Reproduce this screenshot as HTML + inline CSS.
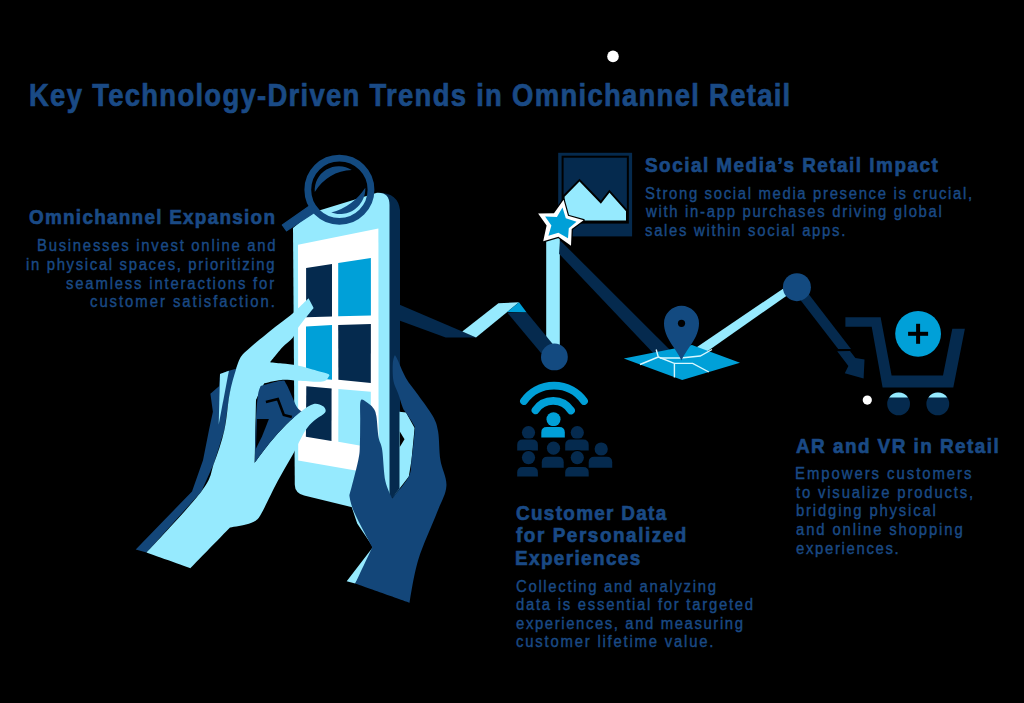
<!DOCTYPE html>
<html><head><meta charset="utf-8">
<style>
html,body{margin:0;padding:0;background:#000;}
body{width:1024px;height:703px;position:relative;overflow:hidden;font-family:"Liberation Sans",sans-serif;color:#1a4a85;}
.t{position:absolute;white-space:pre;margin:0;transform-origin:0 0;}
.hb{font-weight:bold;font-size:21px;line-height:1;-webkit-text-stroke:0.7px #1a4a85;}
.bd{font-size:16px;line-height:1;-webkit-text-stroke:0.4px #1a4a85;}
svg{position:absolute;left:0;top:0;}
</style></head>
<body>
<svg width="1024" height="703" viewBox="0 0 1024 703">
<defs></defs>
<!-- white dot top -->
<circle cx="613" cy="56.4" r="5.8" fill="#fff"/>
<!-- network: navy ribbon from phone -->
<polygon fill="#052a4e" points="398,304 462.3,331.5 476,337.4 445.7,337.4 398,320"/>
<!-- cyan ribbon -->
<polygon fill="#96eafe" points="462.3,331.5 498.4,303.2 519,302.2 507.2,312 476,337.4"/>
<polygon fill="#00a0d8" points="507.2,312 519,302.2 526.7,312.6"/>
<!-- cyan vertical bar star->circle1 -->
<rect x="546.2" y="235" width="13.6" height="112" fill="#96eafe"/>
<!-- navy ribbon to circle1 -->
<polygon fill="#052a4e" points="507.2,312.6 526.7,312.6 556,348 541,353"/>
<!-- navy diagonal star->map -->
<polygon fill="#052a4e" points="560.2,240.4 672,352 656,356 559.1,253.8"/>
<!-- cyan map->circle2 -->
<polygon fill="#96eafe" points="690,351.8 797,279.2 797,288.5 690,363.4"/>
<!-- navy circle2->cart arrow -->
<polygon fill="#052a4e" points="800.9,284.1 851,349 838.2,349 792.9,290.3"/>
<polygon fill="#052a4e" points="837.2,351.3 850,350.9 855.4,358 864.5,359.6 863.6,378.4 844.8,373.2 848.4,366"/>
<!-- circles -->
<circle cx="554.4" cy="356.9" r="13.4" fill="#134a80"/>
<circle cx="796.9" cy="287.2" r="14" fill="#134a80"/>
<!-- picture frame -->
<rect x="558.2" y="152.8" width="73.9" height="83.6" fill="#052a4e"/>
<rect x="562.6" y="156.7" width="65.25" height="65.9" fill="none" stroke="#000" stroke-width="2"/>
<polygon fill="#96eafe" stroke="#000" stroke-width="2" points="563.6,196.3 579.5,180.1 600.8,202.3 609.4,191.2 627,210.8 627,221.6 563.6,221.6"/>
<!-- star -->
<polygon fill="#fff" stroke="#000" stroke-width="2.4" paint-order="stroke" stroke-linejoin="round" points="563.6,199.8 568,215.8 583.6,220.2 571.7,229.1 571,245.7 558.4,236.8 543.2,241.3 546.6,225.4 538.1,213.5 554,213.2"/>
<polygon fill="#00a0d8" points="562.5,207.6 565.8,218.3 576.5,221.7 568.8,228.3 568,238.3 558.4,232.8 548.4,235.7 551.4,225.4 545.1,216.5 556.9,216.9"/>
<!-- map -->
<polygon fill="#00a0d8" points="623.8,358.4 692,345 740,362.8 682.2,380"/>
<polyline fill="none" stroke="#d8f8ff" stroke-width="1.4" points="640,364.5 658.3,357 656.2,349.5"/>
<polyline fill="none" stroke="#d8f8ff" stroke-width="1.4" points="658.3,357 674.4,363.4 674.4,377.4"/>
<polyline fill="none" stroke="#d8f8ff" stroke-width="1.4" points="674.4,363.4 692.7,363.4 708.8,372"/>
<polyline fill="none" stroke="#d8f8ff" stroke-width="1.4" points="660,358 680.9,358 700.2,356 712,349.5"/>
<!-- pin -->
<path fill="#134a80" d="M681.5,360.5 C676,348 664,338 664,323.3 A17.5,17.5 0 1 1 699,323.3 C699,338 687,348 681.5,360.5 Z"/>
<circle cx="681.5" cy="323.3" r="3.6" fill="#000"/>
<!-- cart -->
<polygon fill="#052a4e" points="845.4,317.3 880.6,317.3 891.6,375.6 943,375.6 952.3,328.8 964.9,328.8 953.3,387.6 882.6,387.6 871.7,326.8 845.4,326.8"/>
<circle cx="918.1" cy="333.8" r="22.9" fill="#00a0d8"/>
<rect x="913.9" y="323.8" width="4" height="20" fill="#000" transform="translate(2.2,0)"/>
<rect x="908.1" y="331.8" width="20" height="4" fill="#000"/>
<circle cx="898.6" cy="403.9" r="11.4" fill="#052a4e"/>
<circle cx="937.8" cy="403.9" r="11.4" fill="#052a4e"/>
<circle cx="867.3" cy="400.1" r="4.6" fill="#fff"/>
<path fill="#96eafe" d="M889.17,397.5 A11.4,11.4 0 0 1 908.03,397.5 Z"/>
<path fill="#96eafe" d="M928.37,397.5 A11.4,11.4 0 0 1 947.23,397.5 Z"/>
<!-- wifi -->
<path fill="none" stroke="#00a0d8" stroke-width="7.8" stroke-linecap="round" d="M524,401 A37,37 0 0 1 584,401"/>
<path fill="none" stroke="#00a0d8" stroke-width="7.8" stroke-linecap="round" d="M535.5,410.2 A21.4,21.4 0 0 1 571,410.5"/>
<!-- people -->
<g fill="#00a0d8" stroke="#000" stroke-width="2" paint-order="stroke">
<circle cx="553.5" cy="419.3" r="7"/>
<path d="M541.3,437.6 V432.6 Q541.3,427.1 546.8,427.1 H559.3 Q564.8,427.1 564.8,432.6 V437.6 Z"/>
</g>
<g fill="#052a4e" stroke="#000" stroke-width="2" paint-order="stroke">
<circle cx="528.5" cy="432.6" r="6.6"/>
<path d="M517.2,450.6 V445.1 Q517.2,439.6 522.7,439.6 H532.4 Q537.9,439.6 537.9,445.1 V450.6 Z"/>
<circle cx="577.3" cy="432.6" r="6.6"/>
<path d="M565.2,450.6 V445.1 Q565.2,439.6 570.7,439.6 H583.2 Q588.7,439.6 588.7,445.1 V450.6 Z"/>
<circle cx="553.5" cy="448.2" r="6.6"/>
<path d="M541.8,467.8 V462.3 Q541.8,456.8 547.3,456.8 H558.2 Q563.7,456.8 563.7,462.3 V467.8 Z"/>
<circle cx="601.2" cy="449" r="6.6"/>
<path d="M588.7,467.8 V462.3 Q588.7,456.8 594.2,456.8 H606.7 Q612.2,456.8 612.2,462.3 V467.8 Z"/>
<circle cx="528.5" cy="457.6" r="6.6"/>
<path d="M517.2,476.5 V472.5 Q517.2,467.0 522.7,467.0 H532.4 Q537.9,467.0 537.9,472.5 V476.5 Z"/>
<circle cx="577.3" cy="457.6" r="6.6"/>
<path d="M565.2,476.5 V472.5 Q565.2,467.0 570.7,467.0 H583.2 Q588.7,467.0 588.7,472.5 V476.5 Z"/>
</g>
<!-- phone navy side -->
<path fill="#052a4e" d="M379,192.7 Q398,193 400,210 L400,492 L392.5,498 L389,496 L389,205 Z"/>
<!-- phone cyan body -->
<path fill="#96eafe" d="M293,228 L311,213 L377,192.7 Q389.5,192 389.5,205 L389.5,516 L350.2,506.7 L304.1,495.6 Q295,493 294.8,485 Z"/>
<!-- white screen -->
<polygon fill="#fff" points="298,244.7 378.4,228.4 378.6,474.6 298.2,460.6"/>
<!-- tiles -->
<polygon fill="#052a4e" points="306.1,268 332,264.1 332,316.5 306.1,317.3"/>
<polygon fill="#00a0d8" points="338.2,263 370.9,258.1 370.9,315.4 338.2,316.2"/>
<polygon fill="#00a0d8" points="306,326.5 332,325.1 332,379.8 306,377.3"/>
<polygon fill="#052a4e" points="338.2,325.1 370.9,324 370.8,382.9 338.4,379.8"/>
<polygon fill="#052a4e" points="306.3,386.2 331.6,388.4 331.5,441 305.9,436.7"/>
<polygon fill="#96eafe" points="338.4,389 370.8,391.8 370.8,447.5 338.3,441.8"/>
<!-- magnifier -->
<circle cx="339.4" cy="189.8" r="31.6" fill="none" stroke="#134a80" stroke-width="6.8"/>
<polygon fill="#134a80" stroke="#134a80" stroke-width="1.2" stroke-linejoin="round" points="282.3,225 286.6,230.8 315.5,211.8 310.9,205"/>
<path fill="#134a80" d="M314.8,192 A24,24 0 0 1 351.8,170 A44,44 0 0 0 314.8,192 Z"/>
<path fill="#134a80" d="M365.3,187.7 A25.5,25.5 0 0 1 331.2,212.6 A60,60 0 0 0 365.3,187.7 Z"/>
<!-- left hand shadow -->
<polygon fill="#134679" points="135.7,549.4 192,491.5 203,460.2 209,430 212.9,411.7 210.4,393.7 219.3,386 220,374 228.9,370.7 236,368.8 241,358 229.6,393.8 224.4,430 214,463.3 201.4,491.5 146.6,552.5"/>
<polygon fill="#96eafe" points="220,374 228.9,370.7 218.7,424.5"/>
<!-- left hand cyan -->
<path fill="#96eafe" d="M146.6,552.5 C146.6,552.5 190.2,506.4 201.4,491.5 C212.6,476.6 210.2,473.6 214.0,463.3 C217.8,453.1 221.8,441.6 224.4,430.0 C227.0,418.4 227.7,403.9 229.6,393.8 C231.5,383.7 234.1,375.6 236.0,369.4 C237.9,363.2 238.8,360.2 241.1,356.6 C243.4,353.0 245.9,351.3 250.0,347.7 C254.1,344.1 260.9,338.6 265.6,334.8 C270.3,331.0 273.7,328.3 278.4,324.6 C283.1,320.9 288.8,316.8 293.8,312.4 C298.8,308.0 308.5,298.3 308.5,298.3 C308.5,298.3 313.6,307.9 313.6,307.9 C313.6,307.9 301.1,323.4 297.6,328.4 C294.1,333.4 295.1,334.8 292.5,338.0 C289.9,341.2 285.9,343.6 282.2,347.6 C278.5,351.7 270.1,362.3 270.1,362.3 C270.1,362.3 277.6,363.1 282.2,363.6 C286.8,364.1 291.8,364.3 297.6,365.5 C303.4,366.7 311.7,369.3 316.8,370.7 C321.9,372.1 326.2,372.9 328.2,374.0 C330.1,375.1 329.5,375.7 328.5,377.0 C327.5,378.3 327.2,381.0 322.2,381.6 C317.2,382.2 305.1,381.0 298.3,380.7 C291.5,380.4 286.9,379.5 281.2,379.9 C275.5,380.3 264.2,383.3 264.2,383.3 C264.2,383.3 256.0,400.0 256.0,400.0 C256.0,400.0 254.9,462.7 254.9,462.7 C254.9,462.7 264.7,449.1 269.8,442.8 C274.9,436.5 280.5,430.2 285.8,424.9 C291.1,419.6 297.1,414.4 301.7,410.9 C306.3,407.4 310.2,404.8 313.7,404.0 C317.2,403.2 320.6,405.0 322.6,406.0 C324.6,407.0 325.4,408.7 325.6,410.0 C325.8,411.3 325.6,412.2 323.6,414.0 C321.6,415.8 316.7,418.2 313.7,420.9 C310.7,423.5 308.2,426.2 305.7,429.9 C303.2,433.5 300.7,439.0 298.7,442.8 C296.7,446.6 297.6,445.8 293.8,452.8 C290.0,459.8 281.1,474.7 275.8,484.7 C270.5,494.7 265.2,506.6 261.9,512.6 C258.6,518.6 258.6,518.5 255.9,520.5 C253.2,522.5 250.2,523.3 245.9,524.5 C241.6,525.7 230.0,527.5 230.0,527.5 C230.0,527.5 190.4,568.2 190.4,568.2 C190.4,568.2 146.6,552.5 146.6,552.5Z"/>
<!-- palm gap -->
<path fill="#134679" d="M260.7,385.9 C260.7,385.9 276.9,381.0 281.2,380.7 C285.5,380.4 283.8,379.9 286.4,384.2 C289.0,388.5 294.1,401.9 296.6,406.4 C299.2,410.8 301.7,410.9 301.7,410.9 C301.7,410.9 291.1,419.6 285.8,424.9 C280.5,430.2 274.9,436.5 269.8,442.8 C264.7,449.1 254.9,462.7 254.9,462.7 C254.9,462.7 255.4,431.3 255.9,420.0 C256.4,408.7 257.2,400.7 258.0,395.0 C258.8,389.3 260.7,385.9 260.7,385.9Z"/>
<polyline fill="none" stroke="#000" stroke-width="2.6" points="265.9,402 277.8,399 283.8,414.9 291.8,416.9"/>
<polygon fill="#000" points="256.9,418.9 268.9,418.9 261.9,436.8 255.9,448.8"/>
<!-- right hand bits -->
<polygon fill="#96eafe" points="351,505 357.2,523.5 373,547 346.7,581.3 355.2,583.5 380,547 360,500"/>
<polygon fill="#96eafe" points="399.5,411.8 406,412.6 414.6,428 411.5,460 408.8,476.6 392.4,497.7 399.5,488.3"/>
<polygon fill="#000" points="399.8,431.4 404.5,439.2 399.8,447"/>
<path fill="#134679" d="M360.6,400.9 C361.6,397.8 363.9,400.6 366.0,401.8 C368.1,403.0 371.5,405.6 373.2,407.9 C374.9,410.2 375.4,410.8 376.3,415.7 C377.2,420.6 377.6,431.9 378.6,437.6 C379.6,443.3 381.1,442.7 382.2,450.0 C383.3,457.3 383.7,473.2 385.4,481.3 C387.1,489.4 392.4,498.5 392.4,498.5 C392.4,498.5 405.6,483.0 408.8,476.6 C412.0,470.2 410.5,467.5 411.5,460.0 C412.5,452.5 414.2,437.2 414.6,431.4 C415.0,425.6 415.2,428.2 413.8,425.1 C412.4,422.0 407.8,415.5 406.0,412.6 C404.2,409.7 404.2,411.0 402.9,407.9 C401.6,404.8 399.8,398.2 398.2,393.8 C396.6,389.4 394.4,386.0 393.5,381.3 C392.6,376.6 392.6,369.8 392.7,365.6 C392.8,361.4 393.6,357.6 394.3,356.3 C395.0,355.0 394.7,354.2 396.6,357.8 C398.6,361.4 402.4,371.9 406.0,378.2 C409.6,384.5 414.1,389.1 418.5,395.4 C422.9,401.6 429.3,409.7 432.6,415.7 C435.9,421.7 436.8,424.0 438.1,431.4 C439.4,438.8 439.0,450.9 440.4,460.0 C441.8,469.1 447.0,477.2 446.4,486.0 C445.8,494.8 441.7,500.3 437.0,512.6 C432.3,524.9 422.8,545.0 418.2,560.0 C413.6,575.0 409.6,602.7 409.6,602.7 C409.6,602.7 355.2,583.5 355.2,583.5 C355.2,583.5 372.3,547.2 372.3,547.2 C372.3,547.2 357.9,520.6 354.1,512.0 C350.3,503.4 349.4,495.4 349.4,495.4 C349.4,495.4 356.6,468.6 358.3,460.0 C360.1,451.4 359.6,450.5 359.9,443.9 C360.2,437.3 360.1,427.6 360.2,420.4 C360.3,413.2 359.6,404.0 360.6,400.9Z"/>
</svg>
<div class="t hb" style="font-size:30.5px;left:29.0px;top:79.78px;letter-spacing:1.432px;transform:scaleX(0.9)">Key Technology-Driven Trends in Omnichannel Retail</div>
<div class="t hb" style="left:28.6px;top:205.62px;letter-spacing:1.411px;transform:scaleX(0.9)">Omnichannel Expansion</div>
<div class="t bd" style="left:36.5px;top:238.36px;letter-spacing:1.860px;transform:scaleX(0.93)">Businesses invest online and</div>
<div class="t bd" style="left:26.0px;top:256.96px;letter-spacing:1.793px;transform:scaleX(0.93)">in physical spaces, prioritizing</div>
<div class="t bd" style="left:66.1px;top:275.66px;letter-spacing:1.950px;transform:scaleX(0.93)">seamless interactions for</div>
<div class="t bd" style="left:90.1px;top:294.36px;letter-spacing:2.100px;transform:scaleX(0.93)">customer satisfaction.</div>
<div class="t hb" style="left:645.0px;top:154.42px;letter-spacing:1.658px;transform:scaleX(0.9)">Social Media’s Retail Impact</div>
<div class="t bd" style="left:645.0px;top:185.56px;letter-spacing:1.789px;transform:scaleX(0.93)">Strong social media presence is crucial,</div>
<div class="t bd" style="left:646.0px;top:204.36px;letter-spacing:1.822px;transform:scaleX(0.93)">with in-app purchases driving global</div>
<div class="t bd" style="left:645.0px;top:223.06px;letter-spacing:1.823px;transform:scaleX(0.93)">sales within social apps.</div>
<div class="t hb" style="left:796.4px;top:434.72px;letter-spacing:1.619px;transform:scaleX(0.9)">AR and VR in Retail</div>
<div class="t bd" style="left:795.4px;top:465.76px;letter-spacing:2.113px;transform:scaleX(0.93)">Empowers customers</div>
<div class="t bd" style="left:796.4px;top:484.56px;letter-spacing:1.953px;transform:scaleX(0.93)">to visualize products,</div>
<div class="t bd" style="left:796.4px;top:503.36px;letter-spacing:1.947px;transform:scaleX(0.93)">bridging physical</div>
<div class="t bd" style="left:796.4px;top:522.16px;letter-spacing:2.000px;transform:scaleX(0.93)">and online shopping</div>
<div class="t bd" style="left:796.4px;top:540.96px;letter-spacing:1.791px;transform:scaleX(0.93)">experiences.</div>
<div class="t hb" style="left:516.4px;top:502.22px;letter-spacing:1.464px;transform:scaleX(0.9)">Customer Data</div>
<div class="t hb" style="left:516.4px;top:524.42px;letter-spacing:1.729px;transform:scaleX(0.9)">for Personalized</div>
<div class="t hb" style="left:515.4px;top:546.62px;letter-spacing:1.544px;transform:scaleX(0.9)">Experiences</div>
<div class="t bd" style="left:516.4px;top:578.56px;letter-spacing:1.805px;transform:scaleX(0.93)">Collecting and analyzing</div>
<div class="t bd" style="left:516.4px;top:597.06px;letter-spacing:1.859px;transform:scaleX(0.93)">data is essential for targeted</div>
<div class="t bd" style="left:516.4px;top:615.56px;letter-spacing:1.721px;transform:scaleX(0.93)">experiences, and measuring</div>
<div class="t bd" style="left:516.4px;top:634.06px;letter-spacing:1.923px;transform:scaleX(0.93)">customer lifetime value.</div>
</body></html>
